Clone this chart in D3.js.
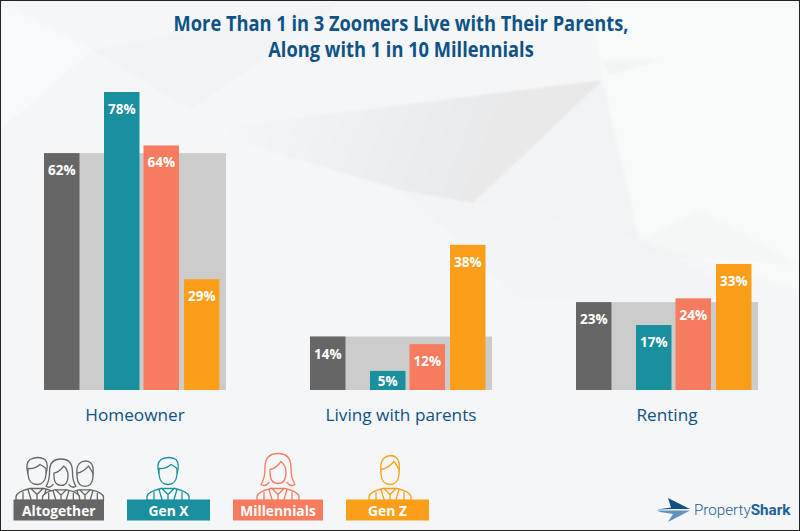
<!DOCTYPE html>
<html>
<head>
<meta charset="utf-8">
<script src="https://cdn.jsdelivr.net/npm/d3@7"></script>
<style>
  html, body { margin: 0; padding: 0; background: #fff; }
  svg { display: block; font-family: "Open Sans", sans-serif; }
</style>
</head>
<body>
<div id="chart"></div>
<script>
var categories = ["Homeowner", "Living with parents", "Renting"];
var generations = ["Altogether", "Gen X", "Millennials", "Gen Z"];
var altogether = [62, 14, 23];
var genX = [78, 5, 17];
var millennials = [64, 12, 24];
var genZ = [29, 38, 33];
var titleLines = ["More Than 1 in 3 Zoomers Live with Their Parents,", "Along with 1 in 10 Millennials"];

var seriesValues = [altogether, genX, millennials, genZ];
var colors = ["#666666", "#1a8f9e", "#f77b5e", "#fb9f1a"];

var width = 800, height = 531;
var baseline = 390;
var barWidth = 35.5;
var paper = "#f5f6f7";

var svg = d3.select("#chart").append("svg")
    .attr("width", width)
    .attr("height", height);

var defs = svg.append("defs");
var grad = defs.append("linearGradient").attr("id", "fade")
    .attr("gradientUnits", "userSpaceOnUse")
    .attr("x1", 230).attr("y1", 100).attr("x2", 470).attr("y2", 190);
grad.append("stop").attr("offset", "0%").attr("stop-color", "#000").attr("stop-opacity", 0);
grad.append("stop").attr("offset", "100%").attr("stop-color", "#000").attr("stop-opacity", 0.05);
defs.append("filter").attr("id", "soft")
    .attr("x", "-10%").attr("y", "-10%").attr("width", "120%").attr("height", "120%")
    .append("feGaussianBlur").attr("stdDeviation", 1.2);

svg.append("rect").attr("width", width).attr("height", height).attr("fill", paper);

// faint facets behind the chart
var facets = [
    {d: "M590,2 L800,2 L800,290 L640,240 L603,80 Z", f: "#fff", o: 0.3},
    {d: "M0,2 L92,50 L0,130 Z", f: "#fff", o: 0.35},
    {d: "M92,50 L339,2 L316,24 L190,110 Z", f: "#000", o: 0.012},
    {d: "M200,130 L603,80 L473,203 L400,190 Z", f: "url(#fade)", o: 1},
    {d: "M603,80 L640,240 L473,203 Z", f: "#000", o: 0.012},
    {d: "M600,60 L660,60 L610,75 Z", f: "#000", o: 0.018},
    {d: "M640,240 L700,210 L800,265 L650,255 Z", f: "#000", o: 0.01},
    {d: "M400,190 L473,203 L640,240 L760,300 L520,300 Z", f: "#000", o: 0.006}
];
svg.append("g").attr("filter", "url(#soft)")
    .selectAll("path.facet").data(facets).enter().append("path")
    .attr("class", "facet")
    .attr("d", function (d) { return d.d; })
    .attr("fill", function (d) { return d.f; })
    .attr("fill-opacity", function (d) { return d.o; });

var x = d3.scalePoint().domain(categories).range([44, 576]);
var slot = d3.scaleOrdinal().domain(generations).range([0, 60, 99.5, 140]);
var y = d3.scaleLinear().domain([0, 78]).range([baseline, 92]);

// title
svg.selectAll("text.title").data(titleLines).enter().append("text")
    .attr("class", "title")
    .attr("transform", function (d, i) { return "translate(401," + (31 + i * 25.5) + ") scale(0.87,1)"; })
    .attr("text-anchor", "middle")
    .attr("font-size", 21)
    .attr("font-weight", 700)
    .attr("fill", "#0f5285")
    .text(function (d) { return d; });

var groups = svg.selectAll("g.group").data(categories).enter().append("g")
    .attr("class", "group")
    .attr("transform", function (d) { return "translate(" + x(d) + ",0)"; });

// wide grey band behind each group repeats the altogether value
groups.append("rect")
    .attr("x", 0)
    .attr("width", 182)
    .attr("y", function (d, i) { return y(altogether[i]); })
    .attr("height", function (d, i) { return baseline - y(altogether[i]); })
    .attr("fill", "#cccccc");

groups.append("text")
    .attr("x", 91)
    .attr("y", 421)
    .attr("text-anchor", "middle")
    .attr("font-size", 17.2)
    .attr("fill", "#0f5285")
    .text(function (d) { return d; });

generations.forEach(function (gen, s) {
    groups.append("rect")
        .attr("x", slot(gen))
        .attr("width", barWidth)
        .attr("y", function (d, i) { return y(seriesValues[s][i]); })
        .attr("height", function (d, i) { return baseline - y(seriesValues[s][i]); })
        .attr("fill", colors[s]);

    groups.append("text")
        .attr("transform", function (d, i) {
            var ty = Math.min(y(seriesValues[s][i]) + 22, baseline - 4);
            return "translate(" + (slot(gen) + barWidth / 2) + "," + ty + ") scale(0.9,1)";
        })
        .attr("text-anchor", "middle")
        .attr("font-size", 15)
        .attr("font-weight", 700)
        .attr("fill", "#fff")
        .text(function (d, i) { return seriesValues[s][i] + "%"; });
});

// legend
var legendBoxes = [[13.5, 90.5], [127, 83], [233, 90], [346, 83]];

var hairs = {
    man: {
        hair: "M-9,-26 Q-12,-36 -7,-40 Q1,-44 8,-40 Q12,-35 9,-26",
        face: "M-9,-31 Q-3,-30 3,-35 Q7,-33 9,-31 L9,-25 Q8,-15 0,-15 Q-8,-15 -9,-25 Z"
    },
    woman: {
        hair: "M-9,-17 Q-13,-12 -17,-15 Q-13,-21 -13,-32 Q-13,-46 0,-46 Q13,-46 13,-32 Q13,-21 17,-15 Q13,-12 9,-17",
        face: "M-8,-30 Q-2,-31 3,-38 Q8,-34 8,-27 Q8,-16 0,-16 Q-8,-16 -8,-27 Z"
    },
    boy: {
        hair: "M-9,-28 Q-11,-43 1,-44 Q11,-43 9,-28",
        face: "M-9,-30 Q-2,-31 4,-38 Q7,-34 9,-30 L9,-25 Q8,-15 0,-15 Q-8,-15 -9,-25 Z"
    }
};

function person(g, cx, color, kind, scale) {
    // outline bust standing on the legend box, origin is the box top centre
    var p = g.append("g").attr("transform", "translate(" + cx + ",0) scale(" + scale + ")")
        .attr("fill", paper).attr("stroke", color).attr("stroke-width", 1.3 / scale)
        .attr("stroke-linejoin", "round").attr("stroke-linecap", "round");
    p.append("path").attr("d", "M-21,1 L-21,-3 Q-20,-8 -7,-11 L7,-11 Q20,-8 21,-3 L21,1 Z");
    p.append("path").attr("fill", "none")
        .attr("d", "M-14,0 V-7 M14,0 V-7 M-6,-11 L0,-5 L6,-11 M0,-5 V0 M-9,-10 L-6,0 M9,-10 L6,0");
    p.append("path").attr("d", hairs[kind].hair);
    p.append("path").attr("d", hairs[kind].face);
}

var iconRow = svg.append("g").attr("transform", "translate(0,499.5)");
person(iconRow, 37, colors[0], "man", 1);
person(iconRow, 85, colors[0], "boy", 0.88);
person(iconRow, 61, colors[0], "woman", 0.88);
person(iconRow, 168, colors[1], "man", 1);
person(iconRow, 278, colors[2], "woman", 1);
person(iconRow, 390, colors[3], "boy", 1);

var legend = svg.selectAll("g.legend").data(generations).enter().append("g")
    .attr("class", "legend");

legend.append("rect")
    .attr("x", function (d, i) { return legendBoxes[i][0]; })
    .attr("y", 499.5)
    .attr("width", function (d, i) { return legendBoxes[i][1]; })
    .attr("height", 21)
    .attr("fill", function (d, i) { return colors[i]; });

legend.append("text")
    .attr("transform", function (d, i) {
        return "translate(" + (legendBoxes[i][0] + legendBoxes[i][1] / 2) + ",515.5) scale(0.92,1)";
    })
    .attr("text-anchor", "middle")
    .attr("font-size", 15)
    .attr("font-weight", 700)
    .attr("fill", "#fff")
    .text(function (d) { return d; });

// logo
var logo = svg.append("g");
logo.append("path")
    .attr("d", "M668,498 L690,509 L672,509 L657,509.5 L671,507.5 Z")
    .attr("fill", "#134f80");
logo.append("path")
    .attr("d", "M657,510.5 H690 L668,522 L673,514 L660,512 Z")
    .attr("fill", "#5f93bd");
svg.append("text")
    .attr("x", 694)
    .attr("y", 514.5)
    .attr("font-size", 15.2)
    .attr("fill", "#1f6096")
    .attr("font-family", "Roboto, sans-serif")
    .attr("font-weight", 300)
    .text("Property")
    .append("tspan")
    .attr("font-weight", 700)
    .text("Shark");

// thin dark frame of the picture
svg.append("rect")
    .attr("x", 0.5).attr("y", 0.5)
    .attr("width", width - 1).attr("height", height - 1)
    .attr("fill", "none").attr("stroke", "#222").attr("stroke-width", 1);
</script>
</body>
</html>
